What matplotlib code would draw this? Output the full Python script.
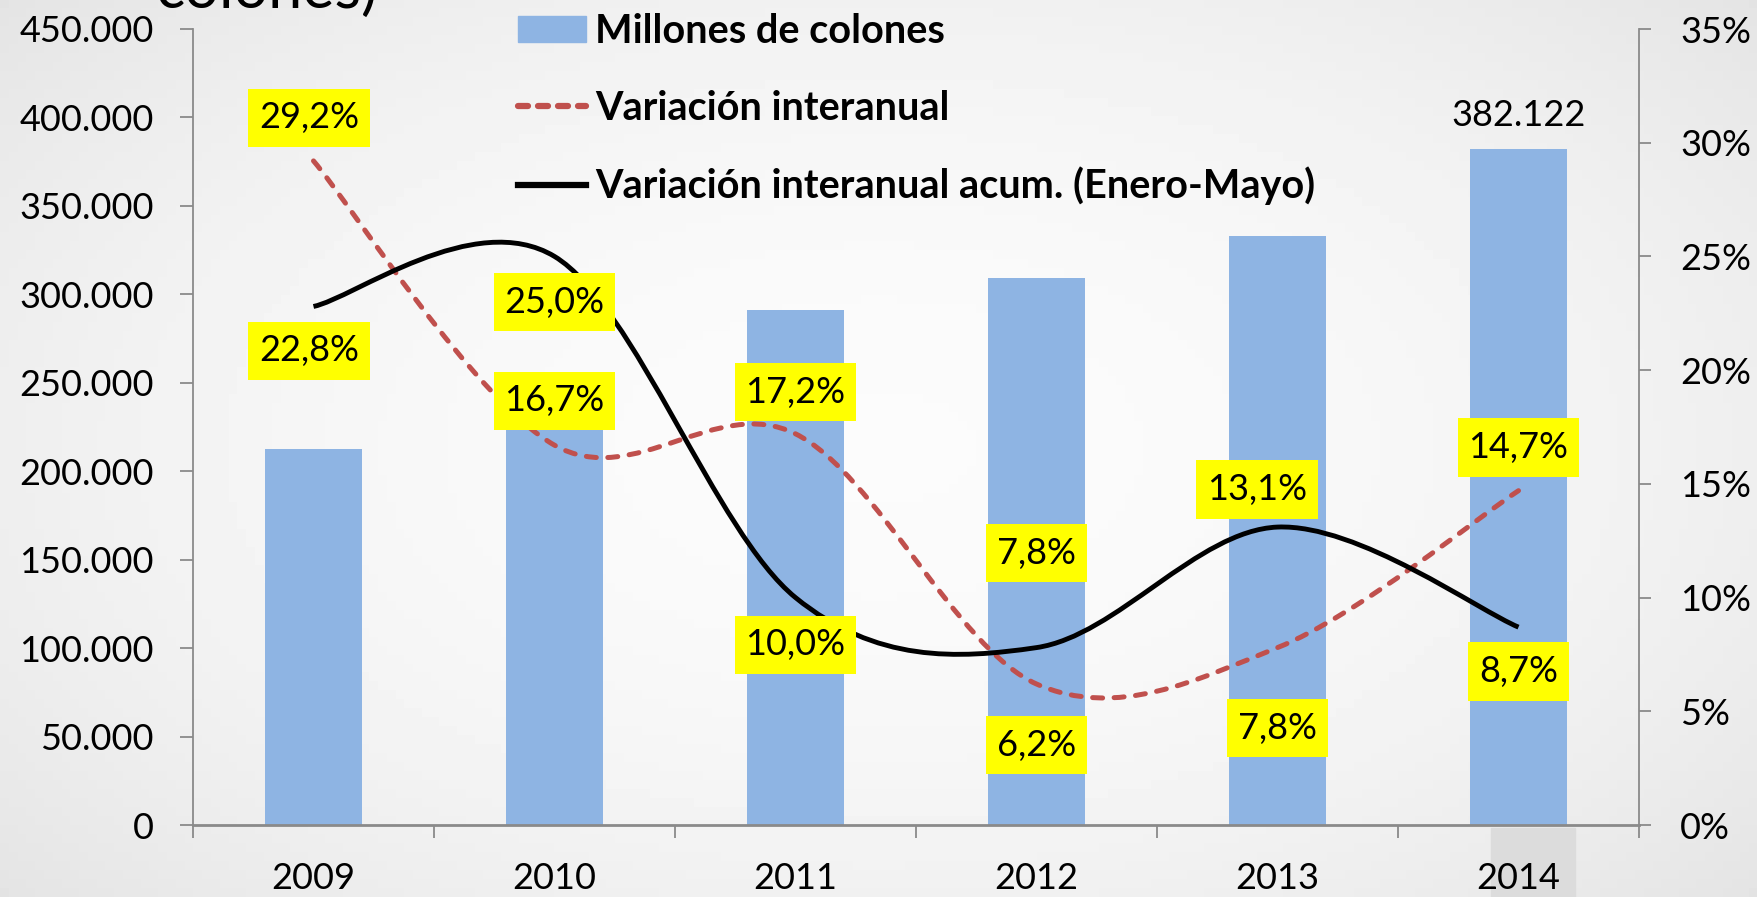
import matplotlib
matplotlib.use('Agg')
import matplotlib.pyplot as plt
import numpy as np
from matplotlib.path import Path
from matplotlib.patches import PathPatch, Rectangle
from matplotlib.lines import Line2D
from matplotlib.ticker import FuncFormatter

plt.rcParams['font.family'] = ['Lato', 'DejaVu Sans']

years = ['2009', '2010', '2011', '2012', '2013', '2014']
millones = [212800, 248300, 291000, 309000, 333150, 382122]
var_interanual = [29.2, 16.7, 17.2, 6.2, 7.8, 14.7]
var_acum = [22.8, 25.0, 10.0, 7.8, 13.1, 8.7]

# where the yellow labels sit, offset from the point (points)
off_interanual = [(-3, 31), (0, 32), (0, 30), (0, -44), (0, -58), (0, 31)]
off_acum = [(-3, -32), (0, -33), (0, -34), (0, 68), (-15, 27), (0, -32)]

BLUE = '#8eb4e3'
RED = '#c0504d'
GRAY = '#8a8a8a'


def smooth_path(xs, ys):
    # excel style smoothed line: cubic bezier through the points
    pts = list(zip(xs, ys))
    n = len(pts)
    verts = [pts[0]]
    codes = [Path.MOVETO]
    for i in range(n - 1):
        p0 = pts[max(i - 1, 0)]
        p1 = pts[i]
        p2 = pts[i + 1]
        p3 = pts[min(i + 2, n - 1)]
        c1 = (p1[0] + (p2[0] - p0[0]) / 6, p1[1] + (p2[1] - p0[1]) / 6)
        c2 = (p2[0] - (p3[0] - p1[0]) / 6, p2[1] - (p3[1] - p1[1]) / 6)
        verts += [c1, c2, p2]
        codes += [Path.CURVE4] * 3
    return Path(verts, codes)


def label_box(x0, y0, width, height, mutation_size):
    # yellow box, a bit more padding top/bottom than sides
    px = 0.3 * mutation_size
    py = 0.35 * mutation_size
    return Path([(x0 - px, y0 - py), (x0 + width + px, y0 - py),
                 (x0 + width + px, y0 + height + py), (x0 - px, y0 + height + py),
                 (x0 - px, y0 - py)], closed=True)


W, H = 1758, 897
fig = plt.figure(figsize=(W / 100, H / 100), dpi=100)

# soft slide background
bg = fig.add_axes([0, 0, 1, 1], zorder=-1)
gx, gy = np.meshgrid(np.linspace(-1, 1, 200), np.linspace(-1, 1, 100))
bg.imshow(0.985 - 0.05 * np.clip(np.hypot(gx, gy * 0.9), 0, 1.4) ** 2,
          cmap='gray', vmin=0, vmax=1, aspect='auto', extent=[0, 1, 0, 1])
bg.axis('off')

fig.patches.append(Rectangle((1491 / W, 0), 84 / W, 69 / H, transform=fig.transFigure,
                             color='#dcdcdc', zorder=-0.5))

ax = fig.add_axes([193 / W, 1 - 825 / H, (1639 - 193) / W, (825 - 29) / H])
ax.set_facecolor('none')
x = np.arange(len(years))
ax.bar(x, millones, width=0.4, color=BLUE, zorder=2)
ax.set_xlim(-0.5, 5.5)
ax.set_ylim(0, 450000)
ax.set_yticks(np.arange(0, 450001, 50000))
ax.yaxis.set_major_formatter(FuncFormatter(lambda v, p: f'{int(v):,}'.replace(',', '.')))
ax.set_xticks(x)
ax.set_xticklabels(years)
ax.set_xticks(np.arange(-0.5, 6, 1), minor=True)
ax.tick_params(axis='x', which='major', length=0, pad=26.5, labelsize=26)
ax.tick_params(axis='x', which='minor', length=9.4, width=1.3, color=GRAY)
ax.tick_params(axis='y', length=9.4, width=1.3, color=GRAY, pad=19, labelsize=26)
for s in ['top', 'right']:
    ax.spines[s].set_visible(False)
ax.spines['left'].set_color(GRAY)
ax.spines['left'].set_linewidth(1.3)
ax.spines['bottom'].set_color(GRAY)
ax.spines['bottom'].set_linewidth(2)

ax.annotate(f'{millones[-1]:,}'.replace(',', '.'), (x[-1], millones[-1]),
            xytext=(0, 24.5), textcoords='offset points', ha='center', va='center',
            fontsize=26)

ax2 = ax.twinx()
ax2.set_facecolor('none')
ax2.set_ylim(0, 35)
ax2.set_yticks(np.arange(0, 36, 5))
ax2.yaxis.set_major_formatter(FuncFormatter(lambda v, p: f'{int(v)}%'))
ax2.tick_params(axis='y', length=8.6, width=1.3, color=GRAY, pad=21, labelsize=26)
for s in ['top', 'left', 'bottom']:
    ax2.spines[s].set_visible(False)
ax2.spines['right'].set_color(GRAY)
ax2.spines['right'].set_linewidth(1.3)

dashed = PathPatch(smooth_path(x, var_interanual), fill=False, edgecolor=RED,
                   linewidth=3.6, linestyle=(0, (2.0, 2.3)), zorder=3)
dashed.set_capstyle('round')
ax2.add_patch(dashed)
ax2.add_patch(PathPatch(smooth_path(x, var_acum), fill=False, edgecolor='black',
                        linewidth=3.5, zorder=3))

box = dict(boxstyle=label_box, fc='yellow', ec='none')
for i in range(len(years)):
    ax2.annotate(f'{var_interanual[i]:.1f}%'.replace('.', ','), (x[i], var_interanual[i]),
                 xytext=off_interanual[i], textcoords='offset points', ha='center',
                 va='center', fontsize=26, bbox=box, zorder=5)
    ax2.annotate(f'{var_acum[i]:.1f}%'.replace('.', ','), (x[i], var_acum[i]),
                 xytext=off_acum[i], textcoords='offset points', ha='center',
                 va='center', fontsize=26, bbox=box, zorder=5)

handles = [Rectangle((0, 0), 1, 1, color=BLUE),
           Line2D([], [], color=RED, lw=4.5, linestyle=(0, (1.6, 1.6)),
                  dash_capstyle='round'),
           Line2D([], [], color='black', lw=4.5)]
labels = ['Millones de colones', 'Variación interanual',
          'Variación interanual acum. (Enero-Mayo)']
fig.legend(handles, labels, loc='upper left', bbox_to_anchor=(518 / W, 1 - 13 / H),
           frameon=False, prop={'weight': 'bold', 'size': 28.5}, handlelength=1.72,
           handleheight=0.6, handletextpad=0.22, labelspacing=1.0, borderpad=0,
           borderaxespad=0)

fig.text(155 / W, 1 - 8 / H, 'colones)', fontsize=44, va='baseline', ha='left')

fig.savefig('out.png', dpi=100)
